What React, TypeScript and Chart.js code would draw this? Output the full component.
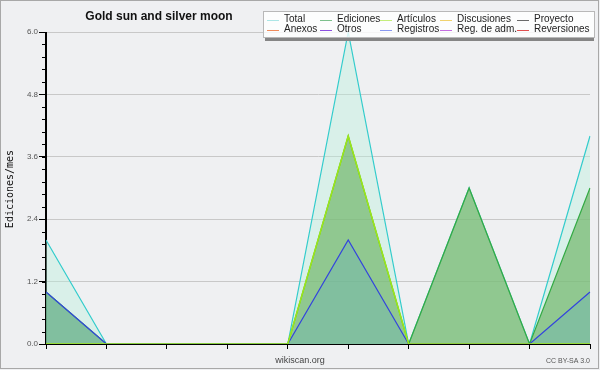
import { useEffect, useRef } from 'react';
import { Chart, registerables } from 'chart.js';

Chart.register(...registerables);

const labels = ['1', '2', '3', '4', '5', '6', '7', '8', '9', '10'];
const total = [2, 0, 0, 0, 0, 6, 0, 3, 0, 4];
const ediciones = [1, 0, 0, 0, 0, 4, 0, 3, 0, 3];
const articulos = [0, 0, 0, 0, 0, 4, 0, 0, 0, 0];
const discusiones = [0, 0, 0, 0, 0, 0, 0, 0, 0, 0];
const proyecto = [0, 0, 0, 0, 0, 0, 0, 0, 0, 0];
const anexos = [0, 0, 0, 0, 0, 0, 0, 0, 0, 0];
const otros = [0, 0, 0, 0, 0, 0, 0, 0, 0, 0];
const registros = [1, 0, 0, 0, 0, 2, 0, 0, 0, 1];
const regAdm = [0, 0, 0, 0, 0, 0, 0, 0, 0, 0];
const reversiones = [0, 0, 0, 0, 0, 0, 0, 0, 0, 0];
const yTicks = [0, 1.2, 2.4, 3.6, 4.8, 6.0];
const yMinorStep = 0.24;

const TITLE = 'Gold sun and silver moon';
const Y_TITLE = 'Ediciones/mes';

// legend order: row 1 then row 2
const legendOrder = ['Total', 'Ediciones', 'Artículos', 'Discusiones', 'Proyecto', 'Anexos', 'Otros', 'Registros', 'Reg. de adm.', 'Reversiones'];
const legendColors: Record<string, string> = {
  Total: '#ace6e6',
  Ediciones: '#7cc08c',
  'Artículos': '#c4ee7c',
  Discusiones: '#f0d26e',
  Proyecto: '#6a6a6a',
  Anexos: '#f08c5c',
  Otros: '#8c50e0',
  Registros: '#8898f0',
  'Reg. de adm.': '#c46ee0',
  Reversiones: '#e05050',
};

const decor = {
  id: 'decor',
  beforeDraw(chart: any) {
    const ctx = chart.ctx;
    ctx.save();
    ctx.fillStyle = '#eff0f2';
    ctx.fillRect(0, 0, chart.width, chart.height);
    ctx.restore();
  },
  afterDatasetsDraw(chart: any) {
    const ctx = chart.ctx;
    const { left, right, top, bottom } = chart.chartArea;
    const ys = chart.scales.y;
    ctx.save();
    // axis lines over data
    ctx.strokeStyle = '#000';
    ctx.lineWidth = 1;
    ctx.beginPath();
    ctx.moveTo(left - 0.5, top);
    ctx.lineTo(left - 0.5, bottom + 0.5);
    ctx.lineTo(right + 0.5, bottom + 0.5);
    ctx.stroke();
    // minor ticks
    ctx.beginPath();
    for (let v = 0; v <= 6.0001; v += yMinorStep) {
      const py = Math.round(ys.getPixelForValue(v)) + 0.5;
      ctx.moveTo(left - 4, py);
      ctx.lineTo(left, py);
    }
    ctx.stroke();

    // title
    ctx.fillStyle = '#111';
    ctx.font = 'bold 12px "Liberation Sans"';
    ctx.textAlign = 'center';
    ctx.textBaseline = 'middle';
    ctx.fillText(TITLE, 159, 17);

    // y title
    ctx.save();
    ctx.translate(10, 189);
    ctx.rotate(-Math.PI / 2);
    ctx.font = '10px "DejaVu Sans Mono"';
    ctx.fillStyle = '#111';
    ctx.fillText(Y_TITLE, 0, 0);
    ctx.restore();

    // legend box
    ctx.fillStyle = '#858585';
    ctx.fillRect(265, 38, 329, 3);
    ctx.fillStyle = 'rgba(255,255,255,0.82)';
    ctx.fillRect(263, 11, 331, 27);
    ctx.strokeStyle = '#b8b8b8';
    ctx.strokeRect(263.5, 11.5, 331, 26);
    const colX = [267, 320, 380, 440, 517];
    const rowY = [19.5, 29.5];
    ctx.font = '10px "Liberation Sans"';
    ctx.textAlign = 'left';
    ctx.textBaseline = 'middle';
    legendOrder.forEach((name, i) => {
      const ds = chart.data.datasets.find((d: any) => d.label === name);
      if (!ds) return;
      const cx = colX[i % 5];
      const cy = rowY[Math.floor(i / 5)];
      ctx.strokeStyle = legendColors[name];
      ctx.lineWidth = 1;
      ctx.beginPath();
      ctx.moveTo(cx, Math.round(cy) + 0.5);
      ctx.lineTo(cx + 12, Math.round(cy) + 0.5);
      ctx.stroke();
      ctx.fillStyle = '#222';
      ctx.fillText(ds.label, cx + 17, cy);
    });

    // footer texts
    ctx.fillStyle = '#444';
    ctx.font = '9px "Liberation Sans"';
    ctx.textAlign = 'center';
    ctx.fillText('wikiscan.org', 300, 361);
    ctx.font = '7px "Liberation Sans"';
    ctx.textAlign = 'right';
    ctx.fillStyle = '#555';
    ctx.fillText('CC BY-SA 3.0', 590, 361);

    // outer border
    ctx.strokeStyle = '#a8a8a8';
    ctx.lineWidth = 1;
    ctx.strokeRect(0.5, 0.5, 598, 368);
    ctx.restore();
  },
};

export default function App() {
  const ref = useRef<HTMLCanvasElement | null>(null);
  useEffect(() => {
    if (!ref.current) return;
    const mk = (label: string, data: number[], extra: any) => ({
      label,
      data,
      pointRadius: 0,
      tension: 0,
      borderWidth: 1,
      fill: false,
      ...extra,
    });
    const chart = new Chart(ref.current, {
      type: 'line',
      data: {
        labels,
        datasets: [
          mk('Total', total, { borderColor: '#33cccc', backgroundColor: 'rgba(184,240,220,0.4)', fill: 'origin', order: 5, borderWidth: 1.2 }),
          mk('Ediciones', ediciones, { borderColor: '#33aa44', backgroundColor: 'rgba(113,183,106,0.7)', fill: 'origin', order: 4, borderWidth: 1.2 }),
          mk('Artículos', articulos, { borderColor: '#9de619', order: 1, borderWidth: 1.6 }),
          mk('Discusiones', discusiones, { borderColor: legendColors['Discusiones'], hidden: true }),
          mk('Proyecto', proyecto, { borderColor: legendColors['Proyecto'], hidden: true }),
          mk('Anexos', anexos, { borderColor: legendColors['Anexos'], hidden: true }),
          mk('Otros', otros, { borderColor: legendColors['Otros'], hidden: true }),
          mk('Registros', registros, { borderColor: '#3344dd', backgroundColor: 'rgba(97,173,197,0.3)', fill: 'origin', order: 2, borderWidth: 1.2 }),
          mk('Reg. de adm.', regAdm, { borderColor: legendColors['Reg. de adm.'], hidden: true }),
          mk('Reversiones', reversiones, { borderColor: legendColors['Reversiones'], hidden: true }),
        ],
      },
      options: {
        responsive: false,
        animation: false,
        layout: { padding: { top: 32, right: 10, left: 0, bottom: 0 } },
        plugins: {
          legend: { display: false },
          title: { display: false },
          tooltip: { enabled: false },
        },
        scales: {
          x: {
            type: 'category',
            offset: false,
            ticks: { display: false },
            grid: { drawOnChartArea: false, drawTicks: true, tickLength: 5, tickColor: '#000', color: '#000' },
            border: { display: true, color: '#000' },
            afterFit: (s: any) => { s.height = 26; },
          },
          y: {
            min: 0,
            max: 6,
            afterBuildTicks: (s: any) => { s.ticks = yTicks.map((v) => ({ value: v })); },
            ticks: {
              padding: 1,
              color: '#555',
              font: { family: 'Liberation Sans', size: 8 },
              callback: (v: any) => Number(v).toFixed(1),
            },
            grid: {
              color: (c: any) => (c.tick && c.tick.value === 0 ? 'rgba(0,0,0,0)' : '#c8c8c8'),
              tickColor: '#000',
              tickLength: 7,
              drawTicks: true,
            },
            border: { display: true, color: '#000' },
            afterFit: (s: any) => { s.width = 46; },
          },
        },
      },
      plugins: [decor],
    });
    return () => chart.destroy();
  }, []);
  return (
    <div style={{ position: 'absolute', left: 0, top: 0, width: 600, height: 370 }}>
      <canvas ref={ref} width={600} height={370} />
    </div>
  );
}
